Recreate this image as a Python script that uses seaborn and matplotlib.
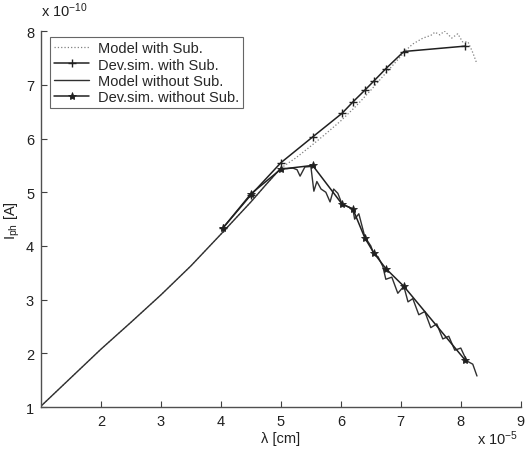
import numpy as np
import pandas as pd
import matplotlib
matplotlib.use("Agg")
import matplotlib.pyplot as plt
from matplotlib.lines import Line2D
import seaborn as sns

# wavelength in units of 1e-5 cm, photocurrent in units of 1e-10 A
model_common_x = [1.0, 1.5, 2.0, 2.5, 3.0, 3.5, 4.0, 4.25, 4.5, 4.75, 5.0]
model_common_y = [1.02, 1.55, 2.08, 2.58, 3.09, 3.63, 4.22, 4.52, 4.82, 5.14, 5.45]

model_sub_x = [5.25, 5.5, 5.75, 6.0, 6.25, 6.5, 6.75, 7.0, 7.07, 7.2, 7.37, 7.5,
               7.57, 7.65, 7.73, 7.85, 7.95, 8.03, 8.12, 8.2, 8.27]
model_sub_y = [5.64, 5.86, 6.09, 6.33, 6.6, 6.9, 7.22, 7.53, 7.63, 7.76, 7.87, 7.92,
               7.98, 7.93, 8.0, 7.87, 7.95, 7.8, 7.8, 7.6, 7.39]

model_nosub_x = [5.1, 5.2, 5.27, 5.32, 5.4, 5.5, 5.55, 5.6, 5.67, 5.75, 5.82, 5.88,
                 5.95, 6.02, 6.1, 6.2, 6.23, 6.3, 6.4, 6.5, 6.55, 6.62, 6.7, 6.75,
                 6.85, 6.95, 7.05, 7.12, 7.2, 7.3, 7.4, 7.5, 7.6, 7.7, 7.8, 7.9,
                 8.0, 8.1, 8.2, 8.27]
model_nosub_y = [5.44, 5.45, 5.42, 5.3, 5.47, 5.48, 5.02, 5.2, 5.06, 5.0, 4.82, 5.06,
                 4.98, 4.78, 4.74, 4.69, 4.5, 4.6, 4.17, 4.0, 3.85, 3.8, 3.62, 3.38,
                 3.42, 3.12, 3.25, 2.96, 3.02, 2.72, 2.78, 2.48, 2.55, 2.27, 2.32, 2.06,
                 2.1, 1.86, 1.8, 1.58]

dev_x = [4.03, 4.5, 5.0, 5.53, 6.02, 6.2, 6.4, 6.55, 6.75, 7.05, 8.07]
dev_sub_y = [4.33, 4.95, 5.55, 6.03, 6.47, 6.68, 6.9, 7.07, 7.3, 7.62, 7.72]
dev_nosub_y = [4.33, 4.97, 5.43, 5.5, 4.78, 4.69, 4.15, 3.87, 3.58, 3.25, 1.88]

series_labels = ["Model with Sub.", "Dev.sim. with Sub.",
                 "Model without Sub.", "Dev.sim. without Sub."]
x_ticks = [2, 3, 4, 5, 6, 7, 8, 9]
y_ticks = [1, 2, 3, 4, 5, 6, 7, 8]

sns.set_style("white")
plt.rcParams["font.family"] = ["Liberation Sans", "DejaVu Sans"]
plt.rcParams["mathtext.fontset"] = "custom"
plt.rcParams["mathtext.rm"] = "Liberation Sans"
plt.rcParams["mathtext.it"] = "Liberation Sans"

fig = plt.figure(figsize=(5.26, 4.52), dpi=100)
ax = fig.add_axes([0.078, 0.097, 0.912, 0.832])

with_sub = pd.DataFrame({"x": model_common_x + model_sub_x,
                         "y": model_common_y + model_sub_y})
without_sub = pd.DataFrame({"x": model_common_x + model_nosub_x,
                            "y": model_common_y + model_nosub_y})
dev_sub = pd.DataFrame({"x": dev_x, "y": dev_sub_y})
dev_nosub = pd.DataFrame({"x": dev_x, "y": dev_nosub_y})

styles = [
    dict(color="#808080", linestyle=":", linewidth=0.9),
    dict(color="#202020", linewidth=1.1, marker="+", markersize=6,
         markeredgewidth=1.0, markeredgecolor="#202020"),
    dict(color="#303030", linewidth=1.0),
    dict(color="#202020", linewidth=1.1, marker="*", markersize=6,
         markeredgewidth=0.6, markeredgecolor="#202020",
         markerfacecolor="#202020"),
]

for frame, style in zip([with_sub, dev_sub, without_sub, dev_nosub], styles):
    sns.lineplot(data=frame, x="x", y="y", sort=False, ax=ax, legend=False,
                 **style)

ax.set_xlim(1, 9)
ax.set_ylim(1, 8)
ax.set_xticks(x_ticks)
ax.set_yticks(y_ticks)
ax.tick_params(direction="in", length=4, width=0.8, labelsize=10.5,
               colors="#404040", labelcolor="#202020", pad=5)
ax.tick_params(axis="x", bottom=True)
ax.tick_params(axis="y", left=True)
for side in ("top", "right"):
    ax.spines[side].set_visible(False)
for side in ("left", "bottom"):
    ax.spines[side].set_color("#505050")
    ax.spines[side].set_linewidth(1.0)

ax.set_xlabel("λ [cm]", fontsize=10.5, color="#202020", labelpad=2)
ax.set_ylabel(r"I$_{\rm ph}$ [A]", fontsize=10.5, color="#202020", labelpad=3)

fig.text(0.078, 0.955, r"x 10$^{-10}$", fontsize=10.5, color="#202020",
         ha="left", va="bottom")
fig.text(0.985, 0.008, r"x 10$^{-5}$", fontsize=10.5, color="#202020",
         ha="right", va="bottom")

handles = [Line2D([], [], **style) for style in styles]
leg = ax.legend(handles, series_labels, loc="upper left",
                bbox_to_anchor=(0.012, 0.992), fontsize=10.5,
                frameon=True, fancybox=False, edgecolor="#404040", numpoints=1,
                borderpad=0.3, labelspacing=0.15, handlelength=2.4,
                handletextpad=0.6, borderaxespad=0.2)
leg.get_frame().set_linewidth(0.8)

fig.savefig("out.png", dpi=100)
